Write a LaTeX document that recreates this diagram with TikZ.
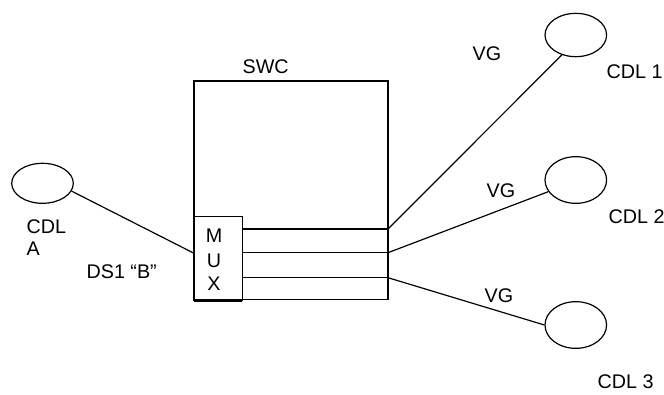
\documentclass[tikz,border=0pt]{standalone}
\usepackage{fontspec}
\setmainfont{Liberation Sans}
\usetikzlibrary{shapes.geometric}
\begin{document}
\begin{tikzpicture}[x=0.75pt,y=-0.75pt, line width=0.9pt,
  lbl/.style={anchor=base west, inner sep=0pt, font=\fontsize{14.8}{17}\selectfont},
  muxl/.style={anchor=base, inner sep=0pt, font=\fontsize{14.8}{17}\selectfont},
  cdl/.style={draw, ellipse, minimum width=46.2pt, inner sep=0pt},
  box/.style={draw, rectangle, inner sep=0pt, outer sep=0pt}]
\useasboundingbox (0,0) rectangle (664,394);
% boxes
\node[box, minimum width=145.5pt, minimum height=163.9pt] (swc) at (291,190.25) {};
\node[box, fill=white, minimum width=36.2pt, minimum height=63pt] (mux) at (218.2,258.7) {};
\draw[line width=2pt] (mux.south west) -- (mux.south east);
% ellipses
\node[cdl, minimum height=30pt] (cdla) at (42.5,183.3) {};
\node[cdl, minimum height=32.5pt] (cdl1) at (575.8,35) {};
\node[cdl, minimum height=35pt] (cdl2) at (575.8,180) {};
\node[cdl, minimum height=35pt] (cdl3) at (575.8,325) {};
% ports
\coordinate (p1) at (swc.east |- 0,229);
\coordinate (p2) at (swc.east |- 0,252.7);
\coordinate (p3) at (swc.east |- 0,277.7);
\coordinate (ain) at (mux.west |- 0,253.3);
% connectors
\draw (mux.east |- p1) -- (p1);
\draw (mux.east |- p2) -- (p2);
\draw (mux.east |- p3) -- (p3);
\draw (cdla.-15) -- (ain);
\draw (p1) -- (cdl1.235);
\draw (p2) -- (cdl2.203);
\draw (p3) -- (cdl3.west);
% labels
\node[lbl] (tswc) at (242,73) {SWC};
\node[lbl] (vg1) at (472,60) {VG};
\node[lbl] (vg2) at (486,197) {VG};
\node[lbl] (vg3) at (484,302) {VG};
\node[lbl] (t1) at (606,78) {CDL 1};
\node[lbl] (t2) at (608,223) {CDL 2};
\node[lbl] (t3) at (597,388) {CDL 3};
\node[lbl] (ta1) at (26,233) {CDL};
\node[lbl] (ta2) at (26,255) {A};
\node[lbl] (tds) at (86,278) {DS1 “B”};
\node[muxl] (m1) at (214,242) {M};
\node[muxl] (m2) at (214,267) {U};
\node[muxl] (m3) at (214,290) {X};
\end{tikzpicture}
\end{document}
